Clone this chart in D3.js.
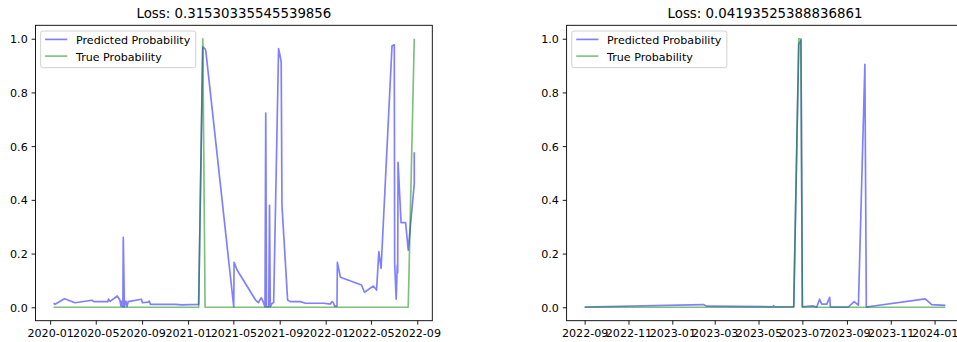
<!DOCTYPE html>
<html>
<head>
<meta charset="utf-8">
<script src="https://cdn.jsdelivr.net/npm/d3@7"></script>
<style>
  html, body { margin: 0; padding: 0; background: #fff; }
  svg { display: block; font-family: "DejaVu Sans", sans-serif; }
</style>
</head>
<body>
<svg id="chart" width="957" height="342"></svg>
<script>
// ---- training period ----
const trainDates = [
  "2020-01-10","2020-01-14","2020-02-08","2020-03-07","2020-04-21","2020-04-26",
  "2020-06-02","2020-06-04","2020-06-08","2020-06-27","2020-07-04","2020-07-07",
  "2020-07-09","2020-07-12","2020-07-13","2020-07-16","2020-07-20","2020-07-23",
  "2020-07-26","2020-08-30","2020-09-02","2020-09-17","2020-09-20","2020-09-23",
  "2020-11-28","2020-12-16","2021-01-29","2021-02-09","2021-02-15","2021-02-17",
  "2021-05-02","2021-05-03","2021-05-11","2021-06-29","2021-07-06","2021-07-14",
  "2021-07-19","2021-07-24","2021-07-26","2021-07-28","2021-08-03","2021-08-05",
  "2021-08-07","2021-08-12","2021-08-16","2021-08-29","2021-09-01","2021-09-05",
  "2021-09-07","2021-09-22","2021-09-29","2021-10-26","2021-11-08","2021-12-27",
  "2022-01-13","2022-01-18","2022-01-21","2022-01-25","2022-01-31","2022-02-01",
  "2022-02-09","2022-04-06","2022-04-14","2022-05-07","2022-05-16","2022-05-22",
  "2022-05-28","2022-06-26","2022-07-02","2022-07-03","2022-07-07","2022-07-10",
  "2022-07-11","2022-07-12","2022-07-20","2022-08-01","2022-08-08","2022-08-24",
  "2022-08-24"
];
const trainPredicted = [
  0.015,0.011,0.032,0.017,0.026,0.021,
  0.021,0.030,0.022,0.042,0.027,0.004,
  0.022,0.002,0.260,0.002,0.023,0.003,
  0.021,0.030,0.017,0.019,0.023,0.011,
  0.011,0.009,0.011,0.970,0.962,0.955,
  0.002,0.167,0.139,0.027,0.017,0.036,
  0.021,0.002,0.723,0.002,0.002,0.380,
  0.002,0.015,0.017,0.963,0.944,0.913,
  0.380,0.027,0.021,0.021,0.015,0.015,
  0.012,0.021,0.018,0.004,0.004,0.167,
  0.112,0.083,0.056,0.079,0.064,0.207,
  0.145,0.974,0.977,0.164,0.030,0.157,
  0.128,0.540,0.315,0.315,0.213,0.460,
  0.577
];
const trainTrue = [
  0,0,0,0,0,0, 0,0,0,0,0,0, 0,0,0,0,0,0, 0,0,0,0,0,0,
  0,0,0,1,0,0, 0,0,0,0,0,0, 0,0,0,0,0,0, 0,0,0,0,0,0,
  0,0,0,0,0,0, 0,0,0,0,0,0, 0,0,0,0,0,0, 0,0,0,0,0,0,
  0,0,0,0,0,1, 1
];
const trainLoss = "0.31530335545539856";
const trainTicks = ["2020-01-01","2020-05-01","2020-09-01","2021-01-01","2021-05-01",
                    "2021-09-01","2022-01-01","2022-05-01","2022-09-01"];

// ---- test period ----
const testDates = [
  "2022-09-01","2023-02-13","2023-02-18","2023-05-21","2023-05-22","2023-05-23",
  "2023-06-19","2023-06-26","2023-06-29","2023-07-01","2023-07-16","2023-07-21",
  "2023-07-25","2023-07-28","2023-08-04","2023-08-08","2023-08-09","2023-09-03",
  "2023-09-11","2023-09-17","2023-09-26","2023-09-28","2023-12-19","2023-12-28",
  "2024-01-16"
];
const testPredicted = [
  0.001,0.010,0.004,0.002,0.006,0.002,
  0.002,0.980,0.995,0.002,0.005,0.001,
  0.030,0.012,0.012,0.037,0.001,0.001,
  0.021,0.008,0.905,0.001,0.031,0.010,
  0.007
];
const testTrue = [
  0,0,0,0,0,0, 0,1,1,0,0,0, 0,0,0,0,0,0, 0,0,0,0,0,0, 0
];
const testLoss = "0.04193525388836861";
const testTicks = ["2022-09-01","2022-11-01","2023-01-01","2023-03-01","2023-05-01",
                   "2023-07-01","2023-09-01","2023-11-01","2024-01-01"];

const yTicks = [0, 0.2, 0.4, 0.6, 0.8, 1.0];
const seriesNames = ["Predicted Probability", "True Probability"];

// ---- drawing ----
const parse = d3.utcParse("%Y-%m-%d");
const svg = d3.select("#chart");
const FS = 11.1;         // tick / legend font size
const TITLE_FS = 13.33;
const TICK_LEN = 3.9, TICK_PAD = 3.9;
const predColor = "rgba(0,0,255,0.5)";
const trueColor = "rgba(0,128,0,0.5)";

function panel(opts) {
  const {left, right, top, bottom, dates, pred, truth, ticks, loss} = opts;
  const ds = dates.map(parse);
  const ext = d3.extent(ds);
  const span = ext[1] - ext[0];
  const x = d3.scaleUtc()
    .domain([new Date(+ext[0] - span * 0.05), new Date(+ext[1] + span * 0.05)])
    .range([left, right]);
  const y = d3.scaleLinear().domain([-0.05, 1.05]).range([bottom, top]);

  const g = svg.append("g");

  // series
  const rowsPred = ds.map((d, i) => [d, pred[i]]);
  const rowsTrue = ds.map((d, i) => [d, truth[i]]);
  const line = d3.line().x(d => x(d[0])).y(d => y(d[1]));
  g.append("path").attr("d", line(rowsPred))
    .attr("fill", "none").attr("stroke", "blue").attr("stroke-opacity", 0.5)
    .attr("stroke-width", 1.67).attr("stroke-linejoin", "round");
  g.append("path").attr("d", line(rowsTrue))
    .attr("fill", "none").attr("stroke", "green").attr("stroke-opacity", 0.5)
    .attr("stroke-width", 1.67).attr("stroke-linejoin", "round");

  // axes
  const xAxis = d3.axisBottom(x)
    .tickValues(ticks.map(parse))
    .tickFormat(d3.utcFormat("%Y-%m"))
    .tickSizeInner(TICK_LEN).tickSizeOuter(0).tickPadding(TICK_PAD);
  const gx = g.append("g").attr("transform", `translate(0,${bottom})`).call(xAxis);
  const yAxis = d3.axisLeft(y)
    .tickValues(yTicks).tickFormat(d3.format(".1f"))
    .tickSizeInner(TICK_LEN).tickSizeOuter(0).tickPadding(TICK_PAD);
  const gy = g.append("g").attr("transform", `translate(${left},0)`).call(yAxis);
  [gx, gy].forEach(a => {
    a.select(".domain").remove();
    a.selectAll(".tick line").attr("stroke", "#000").attr("stroke-width", 0.9);
    a.selectAll(".tick text").attr("fill", "#000")
      .attr("font-family", "DejaVu Sans").attr("font-size", FS);
  });
  gy.selectAll(".tick text").attr("dy", "0.36em");
  gx.selectAll(".tick text").attr("dy", "0.76em");

  // frame
  g.append("rect").attr("x", left).attr("y", top)
    .attr("width", right - left).attr("height", bottom - top)
    .attr("fill", "none").attr("stroke", "#000").attr("stroke-width", 0.9);

  // title
  g.append("text").attr("x", (left + right) / 2).attr("y", top - 6.9)
    .attr("text-anchor", "middle").attr("font-size", TITLE_FS).attr("fill", "#000")
    .text("Loss: " + loss);

  // legend
  const lx = left + 5.2, ly = top + 5.7;
  const leg = g.append("g");
  const legText = leg.selectAll("text").data(seriesNames).join("text")
    .attr("x", lx + 35.3).attr("y", (d, i) => ly + 12.8 + i * 16.7)
    .attr("font-size", FS).attr("fill", "#000").text(d => d);
  let maxW = 0;
  legText.each(function() { maxW = Math.max(maxW, this.getComputedTextLength()); });
  leg.insert("rect", "text").attr("x", lx).attr("y", ly)
    .attr("width", 35.3 + maxW + 5.5).attr("height", 36.7)
    .attr("rx", 2.2).attr("fill", "rgba(255,255,255,0.8)")
    .attr("stroke", "#cccccc").attr("stroke-width", 0.9);
  leg.selectAll("line").data([predColor, trueColor]).join("line")
    .attr("x1", lx + 4.4).attr("x2", lx + 26.6)
    .attr("y1", (d, i) => ly + 8.4 + i * 16.7).attr("y2", (d, i) => ly + 8.4 + i * 16.7)
    .attr("stroke", d => d).attr("stroke-width", 1.67);
}

panel({left: 35.5, right: 432.3, top: 25.3, bottom: 320.7,
       dates: trainDates, pred: trainPredicted, truth: trainTrue,
       ticks: trainTicks, loss: trainLoss});
panel({left: 566.6, right: 963.4, top: 25.3, bottom: 320.7,
       dates: testDates, pred: testPredicted, truth: testTrue,
       ticks: testTicks, loss: testLoss});
</script>
</body>
</html>
